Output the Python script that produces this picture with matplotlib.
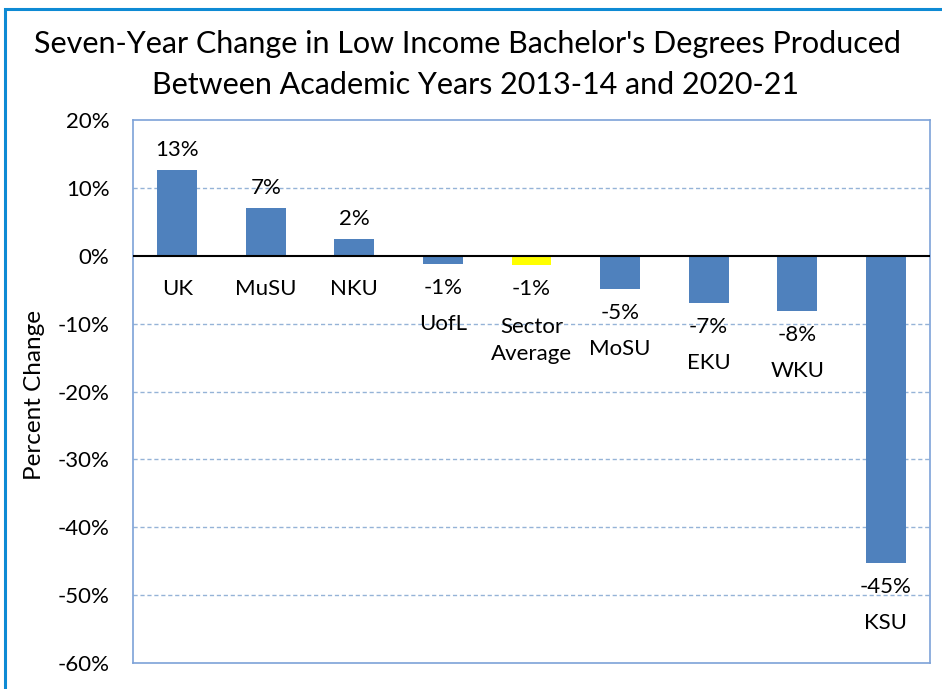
import matplotlib
matplotlib.use("Agg")
import matplotlib.pyplot as plt
from matplotlib.patches import Rectangle
import numpy as np

# --- Data
schools = ["UK", "MuSU", "NKU", "UofL", "Sector\nAverage", "MoSU", "EKU", "WKU", "KSU"]
change = [12.7, 7.1, 2.4, -1.2, -1.4, -4.9, -7.0, -8.1, -45.2]
bar_colors = ["#4F81BD"] * 4 + ["#FFFF00"] + ["#4F81BD"] * 4
yticks = [20, 10, 0, -10, -20, -30, -40, -50, -60]

plt.rcParams["font.family"] = ["Lato", "DejaVu Sans"]
FS = 16

fig = plt.figure(figsize=(9.42, 6.89), dpi=100)
ax = fig.add_axes([133 / 942, 1 - 663 / 689, (930 - 133) / 942, (663 - 120) / 689])

x = np.arange(len(schools))
ax.bar(x, change, width=0.45, color=bar_colors, zorder=3)

ax.set_xlim(-0.5, len(schools) - 0.5)
ax.set_ylim(-60, 20)
ax.set_yticks(yticks)
ax.set_yticklabels([f"{t}%" for t in yticks], fontsize=FS)
ax.set_xticks([])
ax.tick_params(axis="y", length=0, pad=17)

# gridlines: dashed light blue, solid black at zero
for t in yticks:
    if t == 0:
        ax.axhline(0, color="black", lw=1.5, zorder=4)
    elif t not in (20, -60):
        ax.axhline(t, color="#95B3D7", lw=1, ls=(0, (3, 2)), zorder=1)

for s in ax.spines.values():
    s.set_color("#7DA2D8")
    s.set_linewidth(1.2)

# value labels and category labels
for xi, v, name in zip(x, change, schools):
    lbl = f"{round(v):.0f}%"
    extra = 15 * name.count("\n")
    if v >= 0:
        ax.annotate(lbl, (xi, v), xytext=(0, 20), textcoords="offset pixels",
                    ha="center", va="center", fontsize=FS)
        ax.annotate(name, (xi, 0), xytext=(0, -33), textcoords="offset pixels",
                    ha="center", va="center", fontsize=FS)
    else:
        ax.annotate(lbl, (xi, v), xytext=(0, -24), textcoords="offset pixels",
                    ha="center", va="center", fontsize=FS)
        ax.annotate(name, (xi, v), xytext=(0, -60 - extra), textcoords="offset pixels",
                    ha="center", va="center", fontsize=FS, linespacing=1.45)

fig.text(35 / 942, 1 - 395 / 689, "Percent Change", rotation=90,
         ha="center", va="center", fontsize=17.5)
fig.text(467 / 942, 1 - 44 / 689,
         "Seven-Year Change in Low Income Bachelor's Degrees Produced",
         ha="center", va="center", fontsize=22)
fig.text(476 / 942, 1 - 85 / 689,
         "Between Academic Years 2013-14 and 2020-21",
         ha="center", va="center", fontsize=22)

# outer chart border (cut off at right and bottom)
fig.patches.append(Rectangle((5 / 942, -0.05), 1.1, 1 - 9 / 689 + 0.05,
                             transform=fig.transFigure, fill=False,
                             edgecolor="#0E8AD4", lw=2.2))

fig.savefig("out.png", dpi=100)
